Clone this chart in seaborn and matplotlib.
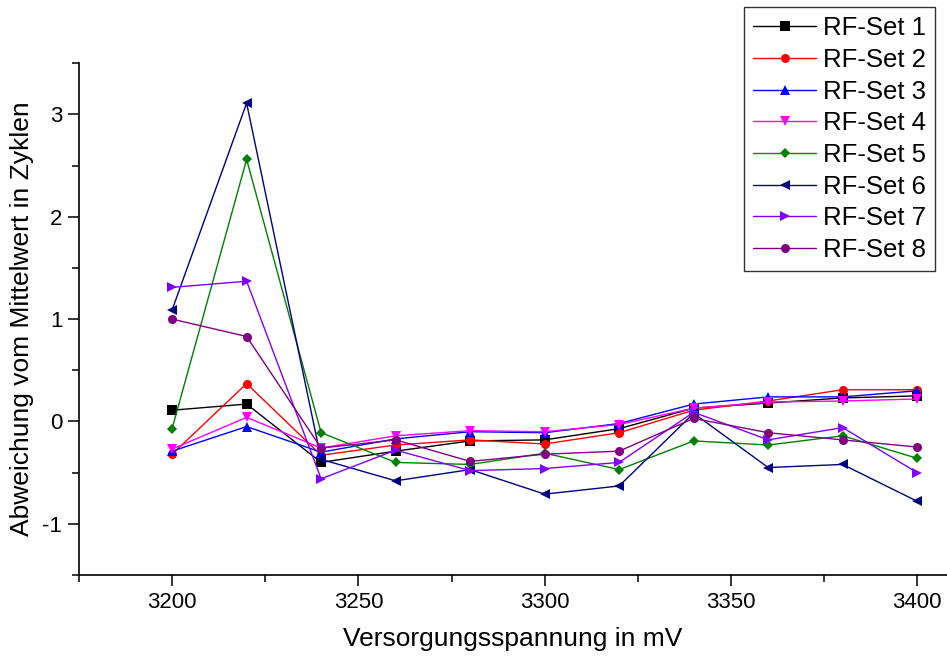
import pandas as pd
import matplotlib
matplotlib.use("Agg")
import matplotlib.pyplot as plt
import seaborn as sns
from matplotlib.ticker import MultipleLocator

# Versorgungsspannung (mV)
spannung = [3200, 3220, 3240, 3260, 3280, 3300, 3320, 3340, 3360, 3380, 3400]

# Abweichung vom Mittelwert je RF-Set
rf_set_1 = [0.11, 0.17, -0.40, -0.29, -0.19, -0.18, -0.07, 0.13, 0.18, 0.23, 0.25]
rf_set_2 = [-0.32, 0.37, -0.33, -0.23, -0.18, -0.22, -0.11, 0.11, 0.20, 0.31, 0.31]
rf_set_3 = [-0.29, -0.05, -0.30, -0.17, -0.10, -0.11, -0.02, 0.17, 0.24, 0.24, 0.30]
rf_set_4 = [-0.27, 0.04, -0.26, -0.14, -0.09, -0.10, -0.03, 0.13, 0.19, 0.20, 0.22]
rf_set_5 = [-0.07, 2.56, -0.11, -0.40, -0.42, -0.31, -0.47, -0.19, -0.23, -0.14, -0.36]
rf_set_6 = [1.09, 3.11, -0.37, -0.58, -0.47, -0.71, -0.63, 0.08, -0.45, -0.42, -0.78]
rf_set_7 = [1.31, 1.37, -0.56, -0.28, -0.48, -0.46, -0.40, 0.09, -0.18, -0.06, -0.50]
rf_set_8 = [1.00, 0.83, -0.26, -0.18, -0.39, -0.32, -0.29, 0.03, -0.11, -0.18, -0.25]

set_names = ["RF-Set 1", "RF-Set 2", "RF-Set 3", "RF-Set 4",
             "RF-Set 5", "RF-Set 6", "RF-Set 7", "RF-Set 8"]
all_sets = [rf_set_1, rf_set_2, rf_set_3, rf_set_4,
            rf_set_5, rf_set_6, rf_set_7, rf_set_8]

colors = ["#000000", "#FF0000", "#0000FF", "#FF00FF",
          "#008000", "#000080", "#8000FF", "#800080"]
markers = ["s", "o", "^", "v", "D", "<", ">", "o"]

sns.set_style("ticks")
plt.rcParams["font.family"] = ["Liberation Sans", "DejaVu Sans"]
plt.rcParams["axes.unicode_minus"] = False
plt.rcParams["text.color"] = "black"
plt.rcParams["axes.labelcolor"] = "black"
plt.rcParams["xtick.color"] = "black"
plt.rcParams["ytick.color"] = "black"
plt.rcParams["axes.edgecolor"] = "black"

fig = plt.figure(figsize=(9.47, 6.57), dpi=100)
ax = fig.add_axes([0.0834, 0.1248, 0.9166, 0.779])

for name, vals, col, mk in zip(set_names, all_sets, colors, markers):
    df = pd.DataFrame({"x": spannung, "y": vals})
    ms = 5.5 if mk == "D" else 6.5
    sns.lineplot(data=df, x="x", y="y", ax=ax, color=col, marker=mk,
                 markersize=ms, markeredgewidth=0, linewidth=1.0, label=name)

ax.set_xlim(3175, 3408)
ax.set_ylim(-1.5, 3.5)
ax.xaxis.set_major_locator(MultipleLocator(50))
ax.xaxis.set_minor_locator(MultipleLocator(25))
ax.yaxis.set_major_locator(MultipleLocator(1))
ax.yaxis.set_minor_locator(MultipleLocator(0.5))
ax.tick_params(which="major", direction="out", length=8, width=1.1,
               labelsize=16, pad=4)
ax.tick_params(which="minor", direction="out", length=5, width=1.1)
for s in ["top", "right"]:
    ax.spines[s].set_visible(False)
for s in ["left", "bottom"]:
    ax.spines[s].set_linewidth(1.2)

ax.set_xlabel("Versorgungsspannung in mV", fontsize=19, labelpad=10)
ax.set_ylabel("Abweichung vom Mittelwert in Zyklen", fontsize=19, labelpad=6)

leg = ax.legend(loc="upper right", bbox_to_anchor=(0.987, 0.989),
                bbox_transform=fig.transFigure, fontsize=18.5,
                frameon=True, fancybox=False, edgecolor="black",
                handlelength=2.45, handletextpad=0.25, labelspacing=0.3,
                borderpad=0.35, borderaxespad=0)
leg.get_frame().set_linewidth(1.0)

fig.savefig("out.png", dpi=100)
